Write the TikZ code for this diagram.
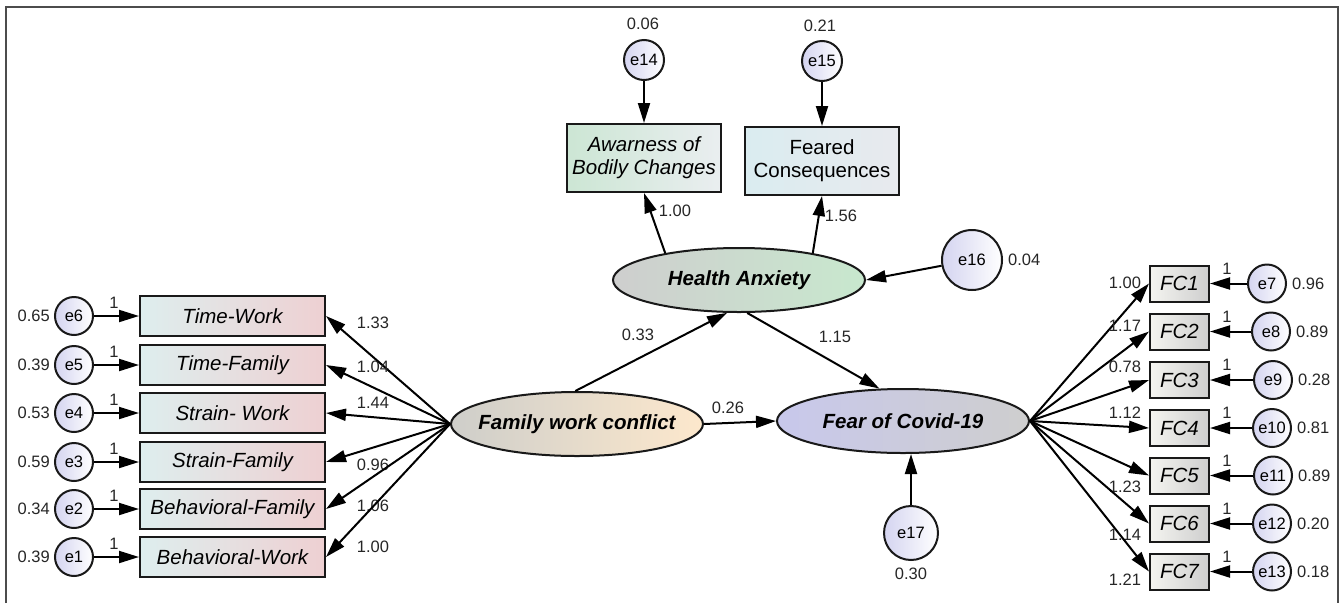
\documentclass[tikz,border=0pt]{standalone}
\usepackage{fontspec}
\setmainfont{Liberation Sans}
\usetikzlibrary{arrows.meta,shapes.geometric}

\definecolor{wfl}{RGB}{222,238,238}
\definecolor{wfr}{RGB}{238,208,210}
\definecolor{abl}{RGB}{204,230,212}
\definecolor{abr}{RGB}{234,238,240}
\definecolor{fql}{RGB}{218,236,240}
\definecolor{fqr}{RGB}{232,234,238}
\definecolor{fcl}{RGB}{244,244,240}
\definecolor{fcr}{RGB}{206,206,206}
\definecolor{errl}{RGB}{212,212,240}
\definecolor{fwcl}{RGB}{206,206,202}
\definecolor{fwcr}{RGB}{253,232,204}
\definecolor{fearl}{RGB}{200,200,236}
\definecolor{fearr}{RGB}{206,206,206}
\definecolor{hal}{RGB}{206,206,206}
\definecolor{har}{RGB}{200,232,206}

\tikzset{
  num/.style={font=\fontsize{16.5}{18}\selectfont, text=black!85, inner sep=0pt},
  obs/.style={draw=black!90, line width=2pt, inner sep=0pt, minimum height=40,
    font=\fontsize{20.5}{23}\selectfont\itshape},
  latent/.style={ellipse, draw=black!90, line width=2pt, inner sep=0pt,
    minimum width=252, minimum height=64,
    font=\fontsize{20.5}{23}\selectfont\bfseries\itshape},
  err/.style={circle, draw=black!90, line width=2pt, inner sep=0pt, minimum size=38,
    left color=errl, right color=white, font=\fontsize{16.5}{18}\selectfont},
  link/.style={line width=2pt, -{Triangle[length=20pt,width=12pt]}},
  rim/.style={line width=1.5pt, black!70},
}

\begin{document}
\begin{tikzpicture}[x=1pt,y=-1pt]
\useasboundingbox (0,0) rectangle (1344,603);
\draw[rim] (6,603) -- (6,7) -- (1338,7) -- (1338,603);

\node[latent, inner xsep=-12pt, left color=fwcl, right color=fwcr] (fwc) at (577,424) {Family work conflict};
\node[latent, left color=hal, right color=har] (ha) at (739,280) {Health Anxiety};
\node[latent, left color=fearl, right color=fearr] (fear) at (903,421) {Fear of Covid-19};

\foreach \n/\lab/\y/\er/\vr/\ld/\ly in {
    tw/Time-Work/316/e6/0.65/1.33/323,
    tf/Time-Family/365/e5/0.39/1.04/367,
    sw/Strain- Work/413/e4/0.53/1.44/403,
    sf/Strain-Family/462/e3/0.59/0.96/465,
    bf/Behavioral-Family/509/e2/0.34/1.06/506,
    bw/Behavioral-Work/557/e1/0.39/1.00/547
}{
    \node[obs, minimum width=185, left color=wfl, right color=wfr] (\n) at (232.5,\y) {\lab};
    \node[err] (\er) at (74,\y) {\er};
    \node[num, anchor=east] (v\er) at ([xshift=-4]\er.west) {\vr};
    \node[num] (o\er) at (114,\y-13) {1};
    \node[num] (l\n) at (373,\ly) {\ld};
    \draw[link] (\er) -- (\n);
    \draw[link] (fwc.west) -- (\n.east);
}

\foreach \i/\y/\er/\vr/\ld/\ly/\ex in {
    1/283.5/e7/0.96/1.00/283/1267,
    2/331.5/e8/0.89/1.17/326/1271,
    3/380/e9/0.28/0.78/367/1273,
    4/428/e10/0.81/1.12/413/1272,
    5/475.5/e11/0.89/1.23/487/1273,
    6/523.5/e12/0.20/1.14/535/1272,
    7/571.5/e13/0.18/1.21/580/1272
}{
    \node[obs, minimum width=59, minimum height=36, left color=fcl, right color=fcr] (fc\i) at (1179.5,\y) {FC\i};
    \node[err] (\er) at (\ex,\y) {\er};
    \node[num, anchor=west] (v\er) at ([xshift=5]\er.east) {\vr};
    \node[num] (o\er) at (1227,\y-15) {1};
    \node[num] (lfc\i) at (1125,\ly) {\ld};
    \draw[link] (\er) -- (fc\i);
    \draw[link] (fear.east) -- (fc\i.west);
}

\node[obs, minimum width=154, minimum height=68, align=center, left color=abl, right color=abr] (abc) at (644,158) {Awarness of\\Bodily Changes};
\node[obs, minimum width=154, minimum height=68, align=center, left color=fql, right color=fqr,
  font=\fontsize{20.5}{23}\selectfont] (fcq) at (822,161) {Feared\\Consequences};
\node[err, minimum size=40] (e14) at (644,60) {e14};
\node[err, minimum size=40] (e15) at (822,61) {e15};
\node[num] (ve14) at (643,24) {0.06};
\node[num] (ve15) at (820,26) {0.21};
\draw[link] (e14) -- (abc);
\draw[link] (e15) -- (fcq);
\draw[link] (ha.160) -- (abc.south);
\draw[link] (ha.20) -- (fcq.south);
\node[num] (labc) at (675,211) {1.00};
\node[num] (lfcq) at (841,216) {1.56};

\node[err, minimum size=60] (e16) at (972,260) {e16};
\node[num, anchor=west] (ve16) at ([xshift=5]e16.east) {0.04};
\draw[link] (e16) -- (ha.east);

\node[err, minimum size=54] (e17) at (911,533) {e17};
\node[num] (ve17) at (911,574) {0.30};
\draw[link] (e17) -- (e17 |- fear.south);

\draw[link] (fwc.93) -- (ha.250);
\draw[link] (ha.284) -- (fear.126);
\draw[link] (fwc.east) -- (fear.west);
\node[num] (lfh) at (638,335) {0.33};
\node[num] (lhf) at (835,337) {1.15};
\node[num] (lff) at (728,408) {0.26};
\end{tikzpicture}
\end{document}
